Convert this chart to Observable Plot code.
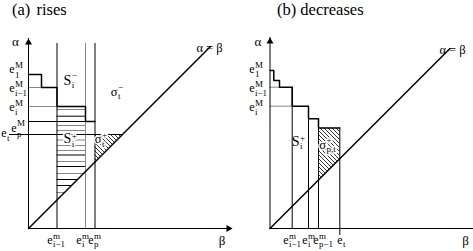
<!DOCTYPE html>
<html><head><meta charset="utf-8">
<script src="https://cdn.jsdelivr.net/npm/d3@7"></script>
<script src="https://cdn.jsdelivr.net/npm/@observablehq/plot@0.6"></script>
<style>
body{margin:0;background:#fff;}
#wrap{display:flex;width:473px;height:251px;overflow:hidden;font-family:"Liberation Serif","Times New Roman",Times,"DejaVu Serif",serif;}
.panel{position:relative;}
.title{height:20px;font-size:16.5px;line-height:19px;white-space:nowrap;}
svg{display:block;}
</style></head>
<body>
<div id="wrap">
  <div class="panel" id="pa" style="width:240px"><div class="title" style="padding-left:12px;word-spacing:2px">(a) rises</div></div>
  <div class="panel" id="pb" style="width:233px"><div class="title" style="padding-left:37px">(b) decreases</div></div>
</div>
<script>
// ---------------- data ----------------
// (a) rises
const riseTops = [154, 141, 122, 107];          // α of steps e1M, e(i-1)M, eiM, epM
const riseEdges = [13, 28.5, 57, 66.5];         // β where each step ends
const riseTopSubs = ["1", "i−1", "i", "p"];
const riseMins = [28.5, 57, 66.5];              // β of e(i-1)m, eim, epm
const riseMinSubs = ["i−1", "i", "p"];
const riseMinTone = ["k", "g", "k"];
const riseEt = 94;
const riseStripes = [119, 112.3, 103, 98, 88.5, 83, 78, 73.5, 67, 62, 55, 49, 43, 36];
const riseStripeTone = ["g","k","g","g","g","g","g","k","g","k","g","k","k","g"];
const riseTop = 185;
const riseDiagEnd = 182;
// (b) decreases
const declTops = [158, 148, 141.3, 122.3, 109.7, 100.5];
const declEdges = [3.8, 9.5, 22.2, 38.5, 48.5, 69.8];
const declTopSubs = ["1", null, "i−1", "i", null, null];
const declMinSups = [null, null, "m", "m", "m", null];
const declMinSubs = [null, null, "i−1", "i", "p−1", "t"];
const declDiagEnd = 180;

// ---------------- helpers ----------------
const F = "Liberation Serif, Times New Roman, Times, DejaVu Serif, serif";
const COL = {k: "#000", g: "#888"};
function stairs(tops, edges) {
  const pts = []; let x0 = 0;
  tops.forEach((t, i) => { pts.push({x: x0, y: t}); pts.push({x: edges[i], y: t}); x0 = edges[i]; });
  return pts;
}
function rich(items, {dx = 0, B = 0, size = 12, ss = 9, supB = -5, subB = 4.5, halo = false} = {}) {
  const parts = (extra) => {
    const m = [Plot.text(items, {x: "x", y: "y", text: "base", fontFamily: F, fontSize: size, textAnchor: "end", dx, dy: B - 0.32 * size, ...extra})];
    const sups = items.filter(d => d.sup);
    if (sups.length) m.push(Plot.text(sups, {x: "x", y: "y", text: "sup", fontFamily: F, fontSize: ss, textAnchor: "start", dx: dx + 0.4, dy: B + supB - 0.32 * ss, ...extra}));
    const subs = items.filter(d => d.sub);
    if (subs.length) m.push(Plot.text(subs, {x: "x", y: "y", text: "sub", fontFamily: F, fontSize: ss, textAnchor: "start", dx: dx + 0.4, dy: B + subB - 0.32 * ss, ...extra}));
    return m;
  };
  return [...(halo ? parts({fill: "white", stroke: "white", strokeWidth: 3, strokeLinejoin: "round"}) : []), ...parts({fill: "black"})];
}
function addHatch(svg, id) {
  const ns = "http://www.w3.org/2000/svg";
  const defs = document.createElementNS(ns, "defs");
  const p = document.createElementNS(ns, "pattern");
  p.setAttribute("id", id); p.setAttribute("patternUnits", "userSpaceOnUse");
  p.setAttribute("width", 4); p.setAttribute("height", 4);
  const path = document.createElementNS(ns, "path");
  path.setAttribute("d", "M-1,-1L5,5M-1,3L1,5M3,-1L5,1");
  path.setAttribute("stroke", "#000"); path.setAttribute("stroke-width", 0.8);
  p.appendChild(path); defs.appendChild(p); svg.insertBefore(defs, svg.firstChild);
}
const arrowHead = (data, o) => Plot.dot(data, {symbol: "triangle", r: 2.6, fill: "black", stroke: "none", ...o});

// label nudges along β (pixels) so the crowded e^m labels do not collide
const riseMinDx = [-4.5, -4, -1.5];
const declMinDx = {2: -3.7, 3: -1, 4: 0, 5: 2.7};

// ---------------- (a) rises ----------------
const riseStripeData = riseStripes.map((a, i) => ({y: a, tone: riseStripeTone[i]}));
const svgA = Plot.plot({
  width: 240, height: 231,
  marginLeft: 28, marginRight: 0, marginTop: 0, marginBottom: 23,
  x: {domain: [0, 212], axis: null},
  y: {domain: [0, 208], axis: null},
  color: {type: "identity"},
  style: {fontFamily: F, overflow: "visible", background: "white"},
  marks: [
    Plot.areaY([{x: riseMins[2], y1: riseMins[2], y2: riseEt}, {x: riseEt, y1: riseEt, y2: riseEt}],
      {x: "x", y1: "y1", y2: "y2", fill: "url(#hatchA)"}),
    Plot.ruleY(riseStripeData, {y: "y", x1: riseMins[0], x2: d => Math.min(riseMins[1], d.y), stroke: d => COL[d.tone], strokeWidth: 1}),
    Plot.ruleX(riseMins, {x: d => d, y1: 0, y2: riseTop, stroke: (d, i) => COL[riseMinTone[i]]}),
    Plot.ruleY([1, 2], {y: i => riseTops[i], x1: 0, x2: i => riseEdges[i - 1], stroke: COL.g}),
    Plot.ruleY([3], {y: i => riseTops[i], x1: 0, x2: i => riseEdges[i - 1], stroke: COL.k}),
    Plot.line(stairs(riseTops, riseEdges), {x: "x", y: "y", stroke: COL.k}),
    Plot.ruleY([riseEt], {y: d => d, x1: -19, x2: d => d, stroke: COL.k}),
    Plot.line([0, riseDiagEnd], {x: d => d, y: d => d, stroke: COL.k}),
    Plot.ruleX([0], {y1: 0, y2: 190, stroke: COL.k}),
    Plot.ruleY([0], {x1: 0, x2: 204, stroke: COL.k}),
    arrowHead([0], {x: 0, y: 190, dy: 4}),
    arrowHead([0], {x: 204, y: 0, rotate: 90, dx: -4}),
    Plot.text(["α"], {x: 0, y: 190, dx: -13, dy: 7 - 0.32 * 13, fontFamily: F, fontSize: 13, fill: "black"}),
    Plot.text(["β"], {x: 204, y: 0, dx: -10.5, dy: 16 - 0.32 * 13, fontFamily: F, fontSize: 13, fill: "black"}),
    Plot.text(["α = β"], {x: riseDiagEnd, y: riseDiagEnd, dx: -1, dy: 1, fontFamily: F, fontSize: 12.5, fill: "black"}),
    // e^M labels on the α axis
    ...rich([{x: 0, y: riseTops[0], base: "e", sup: "M", sub: riseTopSubs[0]}], {dx: -14, B: -1.5}),
    ...rich([1, 2].map(i => ({x: 0, y: riseTops[i], base: "e", sup: "M", sub: riseTopSubs[i]})), {dx: -14, B: 4.3}),
    ...rich([{x: 0, y: riseTops[3], base: "e", sup: "M", sub: riseTopSubs[3]}], {dx: -12, B: 10.5, supB: -6}),
    ...rich([{x: 0, y: riseEt, base: "e", sub: "t"}], {dx: -22, B: 2}),
    // e^m labels on the β axis
    ...riseMins.flatMap((v, i) => rich([{x: v, y: 0, base: "e", sup: "m", sub: riseMinSubs[i]}], {dx: riseMinDx[i], B: 15, supB: -4.7, subB: 3.7})),
    // region labels
    ...rich([{x: (riseMins[0] + riseMins[1]) / 2, y: riseTops[1], base: "S", sup: "−", sub: "i"}], {size: 14, B: -3, supB: -6.5, subB: 3}),
    ...rich([{x: (riseMins[0] + riseMins[1]) / 2, y: riseEt, base: "S", sup: "+", sub: "i"}], {size: 14, B: 8.7, supB: -4.5, subB: 3.5, halo: true}),
    ...rich([{x: riseMins[2], y: riseTops[2], base: "σ", sup: "−", sub: "t"}], {size: 12.5, dx: 22.5, B: -11, supB: -6, subB: 3.5}),
    ...rich([{x: riseMins[2], y: riseEt, base: "σ", sup: "+", sub: "t"}], {size: 12.5, dx: 6.5, B: 8.7, supB: -5, subB: 3.5, halo: true})
  ]
});
addHatch(svgA, "hatchA");
document.getElementById("pa").appendChild(svgA);

// ---------------- (b) decreases ----------------
const declVert = [2, 3, 4, 5];
const svgB = Plot.plot({
  width: 233, height: 231,
  marginLeft: 29.5, marginRight: 0, marginTop: 0, marginBottom: 23,
  x: {domain: [0, 203.5], axis: null},
  y: {domain: [0, 208], axis: null},
  color: {type: "identity"},
  style: {fontFamily: F, overflow: "visible", background: "white"},
  marks: [
    Plot.areaY([{x: declEdges[4], y1: declEdges[4], y2: declTops[5]}, {x: declEdges[5], y1: declEdges[5], y2: declTops[5]}],
      {x: "x", y1: "y1", y2: "y2", fill: "url(#hatchB)"}),
    Plot.ruleY([2, 3], {y: i => declTops[i], x1: 0, x2: i => declEdges[i - 1], stroke: COL.g}),
    Plot.ruleX(declVert, {x: i => declEdges[i], y1: i => (i === 5 ? -7 : 0), y2: i => declTops[i], stroke: COL.k}),
    Plot.line(stairs(declTops, declEdges), {x: "x", y: "y", stroke: COL.k}),
    Plot.line([0, declDiagEnd], {x: d => d, y: d => d, stroke: COL.k}),
    Plot.ruleX([0], {y1: 0, y2: 191, stroke: COL.k}),
    Plot.ruleY([0], {x1: 0, x2: 203.5, stroke: COL.k}),
    arrowHead([0], {x: 0, y: 191, dy: 4}),
    Plot.text(["α"], {x: 0, y: 191, dx: -12, dy: 8 - 0.32 * 13, fontFamily: F, fontSize: 13, fill: "black"}),
    Plot.text(["β"], {x: 203.5, y: 0, dx: -8, dy: 16 - 0.32 * 13, fontFamily: F, fontSize: 13, fill: "black"}),
    Plot.text(["α = β"], {x: declDiagEnd, y: declDiagEnd, dx: 2.5, dy: 1, fontFamily: F, fontSize: 12.5, fill: "black"}),
    ...rich([{x: 0, y: declTops[0], base: "e", sup: "M", sub: declTopSubs[0]}], {dx: -15.5, B: 2.3}),
    ...rich([2, 3].map(i => ({x: 0, y: declTops[i], base: "e", sup: "M", sub: declTopSubs[i]})), {dx: -15.5, B: 4.5}),
    ...declVert.flatMap(i => rich([{x: declEdges[i], y: 0, base: "e", sup: declMinSups[i], sub: declMinSubs[i]}], {dx: declMinDx[i], B: 15, supB: -4.7, subB: 3.7})),
    ...rich([{x: declEdges[2], y: declTops[5], base: "S", sup: "+", sub: "i"}], {size: 14, dx: 7.3, B: 17.5, supB: -4.5, subB: 3.5}),
    ...rich([{x: declEdges[4], y: declTops[5], base: "σ", sup: "+", sub: "p,t"}], {size: 12.5, dx: 7.5, B: 20.5, supB: -6, subB: 3.5, halo: true})
  ]
});
addHatch(svgB, "hatchB");
document.getElementById("pb").appendChild(svgB);
</script>
</body></html>
